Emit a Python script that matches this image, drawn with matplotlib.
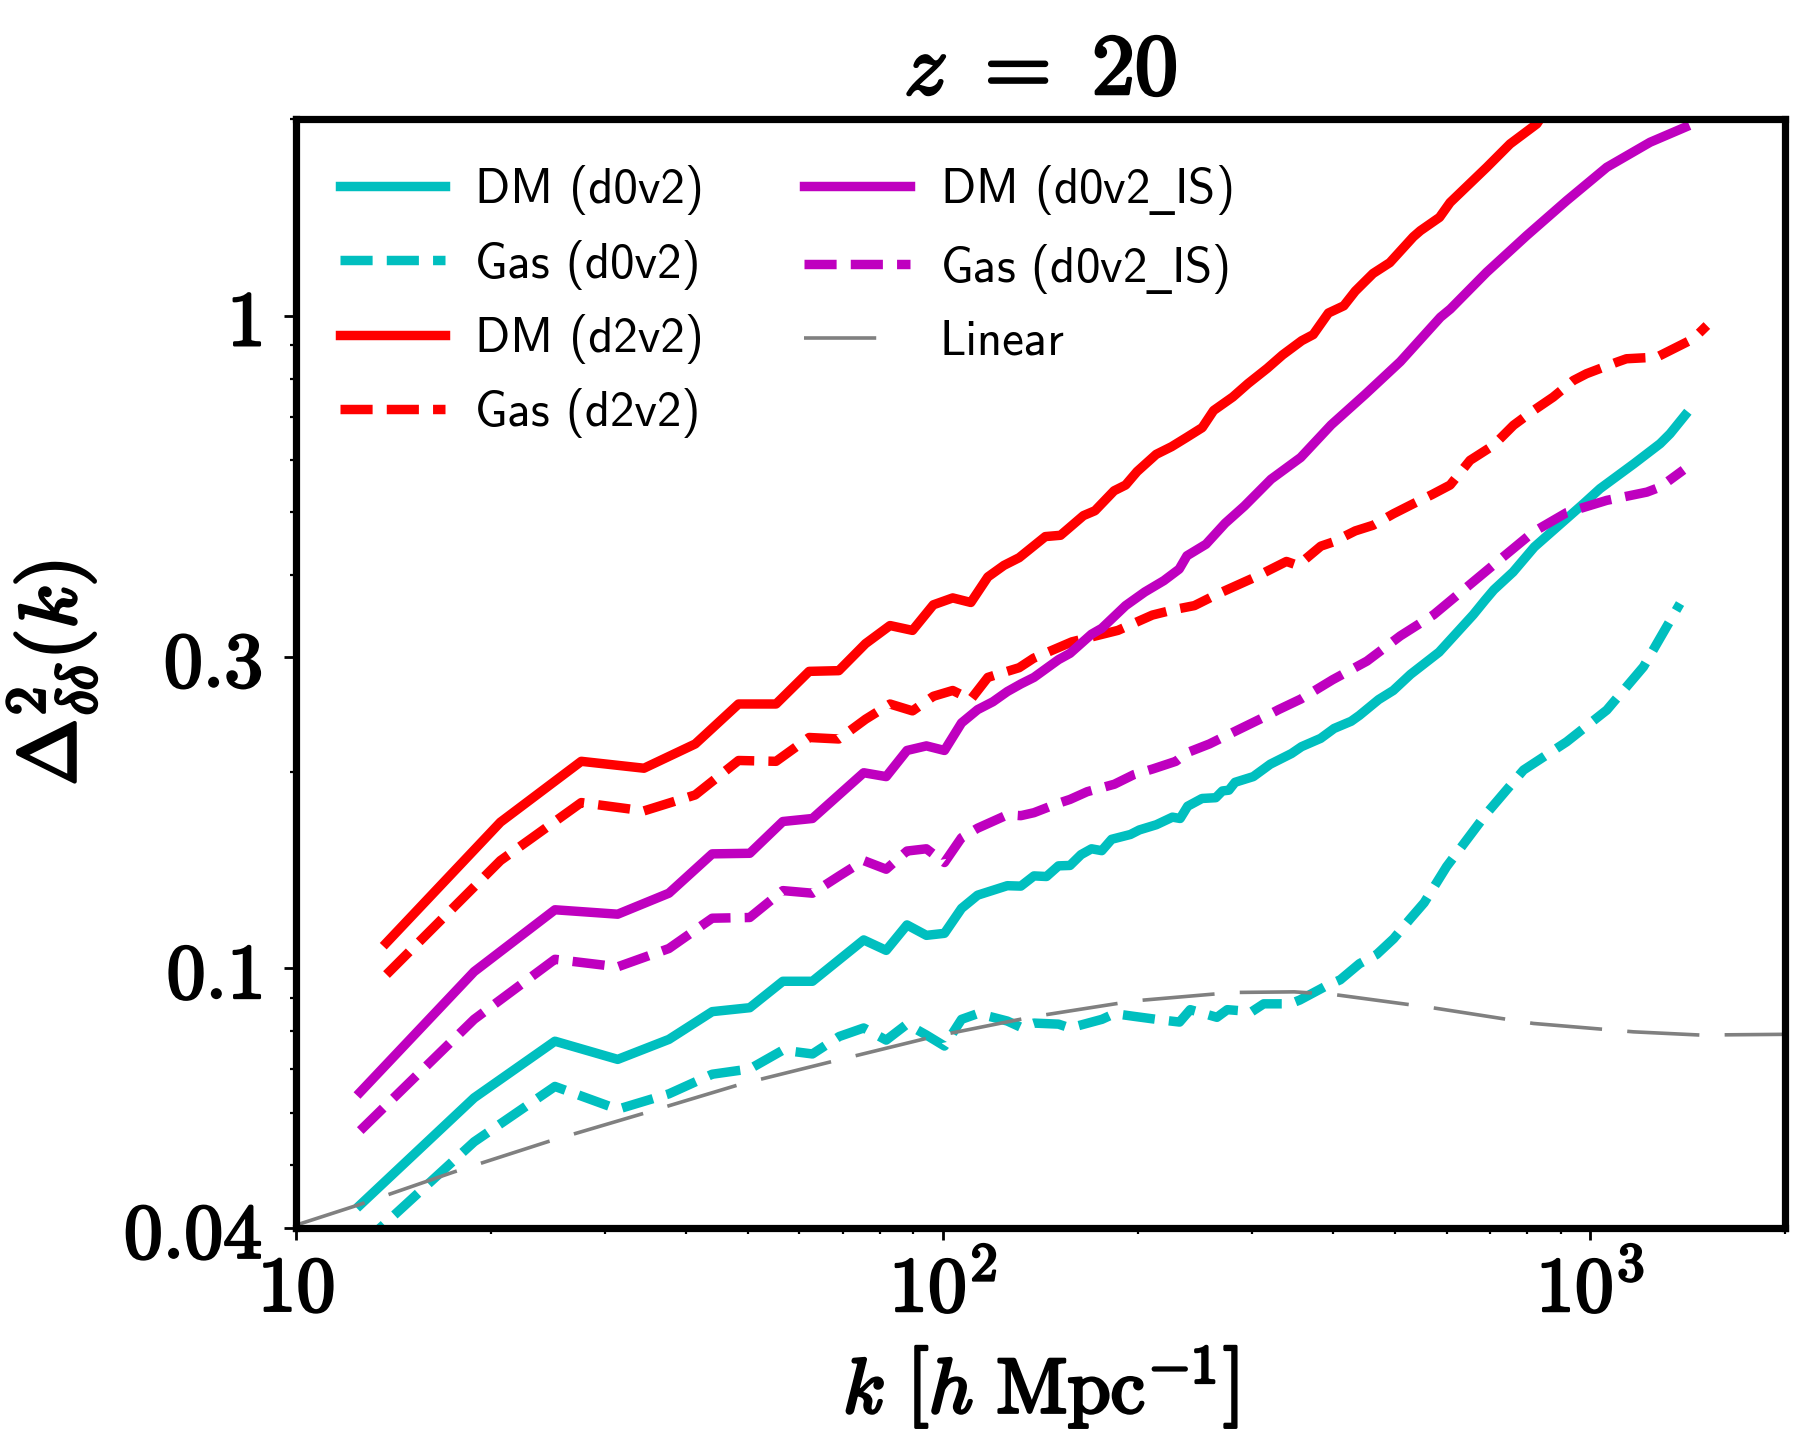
import numpy as np
import matplotlib.pyplot as plt
from matplotlib import patheffects
from matplotlib.ticker import NullFormatter

plt.rcParams['mathtext.fontset'] = 'cm'

# DM (d0v2)
k_dm_d0v2 = [12.57, 18.85, 25.13, 31.42, 37.70, 43.98, 50.27, 56.55, 62.83, 75.40,
             81.68, 87.96, 94.25, 100.5, 106.8, 113.1, 125.7, 131.9, 138.2, 144.5,
             150.8, 157.1, 163.4, 169.6, 175.9, 182.2, 194.8, 201.1, 213.6, 226.2,
             232.5, 238.8, 251.3, 263.9, 270.2, 276.5, 282.7, 301.6, 320.4, 345.6,
             358.1, 383.3, 402.1, 427.3, 440.0, 471.2, 496.3, 527.8, 584.3, 659.7,
             688.0, 709.9, 760.2, 820.0, 977.0, 1036, 1169, 1283, 1329, 1401]
p_dm_d0v2 = [0.0434, 0.0633, 0.0773, 0.0725, 0.0778, 0.0858, 0.0870, 0.0955, 0.0955, 0.1105,
             0.1065, 0.1165, 0.1123, 0.1131, 0.1235, 0.1294, 0.1338, 0.1336, 0.1385, 0.1382,
             0.1435, 0.1437, 0.1493, 0.1524, 0.1514, 0.1576, 0.1603, 0.1629, 0.1659, 0.1704,
             0.1696, 0.1771, 0.1820, 0.1825, 0.1869, 0.1874, 0.1927, 0.1966, 0.2054, 0.2133,
             0.2185, 0.2250, 0.2330, 0.2390, 0.2440, 0.2580, 0.2664, 0.2820, 0.3050, 0.3480,
             0.3663, 0.3800, 0.4046, 0.4420, 0.5150, 0.5430, 0.5930, 0.6364, 0.6590, 0.7030]

# Gas (d0v2)
k_gas_d0v2 = [12.57, 18.85, 25.13, 31.42, 37.70, 43.98, 50.27, 56.55, 62.83, 69.12,
              75.40, 81.68, 87.96, 94.25, 100.5, 106.8, 113.1, 119.4, 125.7, 131.9,
              138.2, 150.8, 157.1, 176.0, 184.0, 197.0, 213.6, 232.0, 241.0, 265.0,
              275.0, 300.0, 313.0, 344.0, 356.0, 389.0, 411.0, 440.0, 468.0, 497.0,
              527.0, 554.0, 600.0, 692.0, 789.0, 920.0, 1061, 1209, 1377]
p_gas_d0v2 = [0.0375, 0.0542, 0.0659, 0.0608, 0.0642, 0.0688, 0.0701, 0.0749, 0.0739, 0.0786,
              0.0810, 0.0776, 0.0821, 0.0790, 0.0760, 0.0835, 0.0852, 0.0841, 0.0830, 0.0812,
              0.0824, 0.0821, 0.0810, 0.0835, 0.0852, 0.0844, 0.0835, 0.0827, 0.0864, 0.0841,
              0.0864, 0.0858, 0.0882, 0.0882, 0.0894, 0.0937, 0.0960, 0.1016, 0.1050, 0.1110,
              0.1190, 0.1260, 0.1431, 0.1727, 0.2012, 0.2223, 0.2486, 0.2896, 0.3620]

# DM (d2v2)
k_dm_d2v2 = [13.8, 20.7, 27.6, 34.5, 41.4, 48.3, 55.2, 62.1, 69.0, 75.9,
             82.8, 89.7, 96.6, 103.5, 110.4, 117.3, 124.2, 131.1, 143.9, 151.9,
             164.8, 171.7, 183.8, 191.5, 199.5, 213.5, 225.5, 238.2, 251.5, 261.9,
             280.4, 296.0, 316.9, 334.7, 358.3, 373.3, 394.1, 416.2, 433.6, 461.9,
             490.2, 533.0, 546.6, 585.2, 607.6, 692.2, 752.1, 827.2, 845.0]
p_dm_d2v2 = [0.1094, 0.1674, 0.2075, 0.2025, 0.2206, 0.2540, 0.2540, 0.2850, 0.2857, 0.3143,
             0.3350, 0.3293, 0.3604, 0.3693, 0.3634, 0.3977, 0.4142, 0.4256, 0.4585, 0.4606,
             0.4937, 0.5023, 0.5389, 0.5500, 0.5768, 0.6128, 0.6296, 0.6510, 0.6734, 0.7153,
             0.7503, 0.7866, 0.8299, 0.8702, 0.9150, 0.9350, 1.009, 1.035, 1.090, 1.160,
             1.205, 1.320, 1.349, 1.414, 1.490, 1.687, 1.832, 1.966, 2.030]

# Gas (d2v2)
k_gas_d2v2 = [13.8, 20.7, 27.6, 34.5, 41.4, 48.3, 55.2, 62.1, 69.0, 75.9,
              82.8, 89.7, 96.6, 103.5, 110.4, 117.3, 124.2, 131.1, 138.0, 158.2,
              186.3, 210.6, 228.6, 244.6, 265.5, 304.2, 339.4, 353.5, 383.6, 400.6,
              433.6, 461.9, 496.8, 533.3, 569.4, 607.7, 652.3, 708.8, 761.3, 817.4,
              876.8, 942.3, 987.2, 1100, 1138, 1268, 1314, 1444, 1515]
p_gas_d2v2 = [0.0978, 0.1462, 0.1794, 0.1742, 0.1843, 0.2081, 0.2075, 0.2257, 0.2245, 0.2407,
              0.2540, 0.2479, 0.2610, 0.2664, 0.2582, 0.2790, 0.2840, 0.2887, 0.2985, 0.3163,
              0.3293, 0.3476, 0.3547, 0.3594, 0.3743, 0.3977, 0.4200, 0.4142, 0.4433, 0.4498,
              0.4678, 0.4772, 0.4970, 0.5150, 0.5316, 0.5500, 0.6000, 0.6325, 0.6790, 0.7153,
              0.7500, 0.7953, 0.8145, 0.8484, 0.8586, 0.8635, 0.8790, 0.9213, 0.9654]

# DM (d0v2_IS)
k_dm_is = [12.57, 18.85, 25.13, 31.42, 37.70, 43.98, 50.27, 56.55, 62.83, 75.40,
           81.68, 87.96, 94.25, 100.5, 106.8, 113.1, 119.4, 125.7, 131.9, 138.2,
           150.8, 157.1, 169.6, 175.9, 191.5, 205.0, 219.4, 231.7, 238.2, 254.9,
           272.9, 292.2, 321.3, 357.0, 398.0, 449.0, 509.0, 587.0, 608.0, 692.0,
           798.0, 920.0, 1061, 1238, 1402]
p_dm_is = [0.0646, 0.0988, 0.1229, 0.1210, 0.1303, 0.1497, 0.1500, 0.1678, 0.1696, 0.1993,
           0.1966, 0.2156, 0.2191, 0.2156, 0.2376, 0.2490, 0.2560, 0.2654, 0.2726, 0.2790,
           0.2970, 0.3037, 0.3249, 0.3317, 0.3594, 0.3771, 0.3925, 0.4088, 0.4285, 0.4463,
           0.4806, 0.5106, 0.5613, 0.6060, 0.6800, 0.7570, 0.8500, 0.9940, 1.023, 1.165,
           1.326, 1.500, 1.687, 1.843, 1.943]

# Gas (d0v2_IS)
k_gas_is = [12.57, 18.85, 25.13, 31.42, 37.70, 43.98, 50.27, 56.55, 62.83, 69.12,
            75.40, 81.68, 87.96, 94.25, 100.5, 106.8, 113.1, 125.7, 131.9, 138.2,
            150.8, 157.1, 167.0, 184.0, 197.0, 211.0, 229.0, 238.0, 258.0, 280.0,
            313.0, 330.0, 357.0, 400.0, 452.0, 509.0, 573.0, 645.0, 726.0, 817.0,
            920.0, 1061, 1224, 1283, 1394]
p_gas_is = [0.0564, 0.0835, 0.1032, 0.1005, 0.1072, 0.1193, 0.1196, 0.1315, 0.1303, 0.1385,
            0.1462, 0.1418, 0.1512, 0.1524, 0.1452, 0.1585, 0.1639, 0.1718, 0.1713, 0.1731,
            0.1790, 0.1814, 0.1864, 0.1914, 0.1979, 0.2020, 0.2075, 0.2138, 0.2206, 0.2296,
            0.2423, 0.2490, 0.2584, 0.2767, 0.2955, 0.3230, 0.3480, 0.3837, 0.4230, 0.4660,
            0.4990, 0.5210, 0.5364, 0.5460, 0.5800]

# linear theory
k_lin = [10.0, 12.5, 17.5, 24.6, 34.6, 48.6, 68.3, 96.9, 138.0, 197.0,
         280.0, 349.0, 400.0, 570.0, 817.0, 1167, 1479, 2000]
p_lin = [0.0404, 0.0434, 0.0487, 0.0543, 0.0600, 0.0664, 0.0722, 0.0786, 0.0843, 0.0891,
         0.0918, 0.0920, 0.0912, 0.0870, 0.0823, 0.0799, 0.0790, 0.0792]

xticks = [10, 100, 1000]
xticklabels = [r'$\mathbf{10}$', r'$\mathbf{10^{2}}$', r'$\mathbf{10^{3}}$']
yticks = [0.04, 0.1, 0.3, 1]
yticklabels = [r'$\mathbf{0.04}$', r'$\mathbf{0.1}$', r'$\mathbf{0.3}$', r'$\mathbf{1}$']

fig = plt.figure(figsize=(9.09, 7.26), dpi=200)
ax = fig.add_axes([0.1628, 0.1543, 0.819, 0.7637])

lw = 3.4
ax.plot(k_dm_d0v2, p_dm_d0v2, color='c', lw=lw, label='DM (d0v2)')
ax.plot(k_gas_d0v2, p_gas_d0v2, color='c', lw=lw, ls=(0, (3.4, 1.5)), label='Gas (d0v2)')
ax.plot(k_dm_d2v2, p_dm_d2v2, color='r', lw=lw, label='DM (d2v2)')
ax.plot(k_gas_d2v2, p_gas_d2v2, color='r', lw=lw, ls=(0, (3.4, 1.5)), label='Gas (d2v2)')
ax.plot(k_dm_is, p_dm_is, color='m', lw=lw, label=r'DM (d0v2$\_$IS)')
ax.plot(k_gas_is, p_gas_is, color='m', lw=lw, ls=(0, (3.4, 1.5)), label=r'Gas (d0v2$\_$IS)')
ax.plot(k_lin, p_lin, color='grey', lw=1.3, ls=(0, (20, 7)), label='Linear')

ax.set_xscale('log')
ax.set_yscale('log')
ax.set_xlim(10, 2000)
ax.set_ylim(0.04, 2)

bold_tick = [patheffects.withStroke(linewidth=0.9, foreground='black')]
ax.set_xticks(xticks)
ax.set_xticklabels(xticklabels)
ax.set_yticks(yticks)
ax.set_yticklabels(yticklabels)
ax.yaxis.set_minor_formatter(NullFormatter())
ax.xaxis.set_minor_formatter(NullFormatter())
ax.tick_params(which='major', direction='out', length=4.3, width=1.0, labelsize=28)
ax.tick_params(which='minor', direction='out', length=2.2, width=0.8)
ax.tick_params(axis='y', which='major', pad=8)
ax.tick_params(axis='x', which='major', pad=4)
for lab in ax.get_xticklabels() + ax.get_yticklabels():
    lab.set_path_effects(bold_tick)
for s in ax.spines.values():
    s.set_linewidth(2.6)

bold = [patheffects.withStroke(linewidth=1.1, foreground='black')]
t = ax.set_title(r'$z\ =\ 20$', fontsize=31, pad=9)
t.set_path_effects(bold)
xl = ax.set_xlabel(r'$k\ \left[h\ \mathrm{Mpc}^{-1}\right]$', fontsize=28, labelpad=6)
xl.set_path_effects(bold)
yl = ax.set_ylabel(r'$\Delta^2_{\delta\delta}(k)$', fontsize=29, labelpad=9)
yl.set_path_effects(bold)

leg = ax.legend(ncol=2, loc='upper left', frameon=False,
                prop={'family': 'cmss10', 'size': 17.6, 'math_fontfamily': 'dejavusans'},
                handlelength=2.15, handletextpad=0.62, columnspacing=2.05, labelspacing=0.5)
leg.get_lines()[6].set_linestyle((0, (20, 12)))

fig.savefig('out.png', dpi=200)
